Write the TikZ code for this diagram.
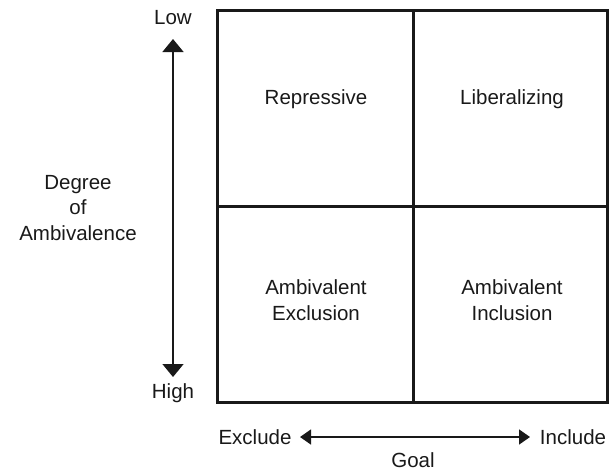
\documentclass[tikz,border=0pt]{standalone}
\usepackage{fontspec}
\setmainfont{Liberation Sans}
\usetikzlibrary{arrows.meta}
\begin{document}
\begin{tikzpicture}[x=1pt,y=-1pt,
    lbl/.style={font=\fontsize{20.5}{25.5}\selectfont, align=center, inner sep=0pt, text=black!90},
    cell/.style={line width=3pt, black!90},
    axis/.style={line width=1.5pt, black!90}]
  \useasboundingbox (0,0) rectangle (609,472);

  % the four quadrants
  \draw[cell] (217,10) rectangle (607.5,402);
  \draw[cell] (413,10) -- (413,402);
  \draw[cell] (217,206) -- (607.5,206);
  \foreach[count=\i] \t/\x/\y in {Repressive/316/99, Liberalizing/512/99,
      Ambivalent\\Exclusion/316/300, Ambivalent\\Inclusion/512/300} {
    \node[lbl] (q\i) at (\x,\y) {\t};
  }

  % vertical axis
  \node[lbl] (low) at (173,18) {Low};
  \node[lbl] (high) at (173,393) {High};
  \node[lbl] (degree) at (78,208) {Degree\\of\\Ambivalence};
  \coordinate (vtop) at (173,39);
  \coordinate (vbot) at (173,377);
  \draw[axis, {Triangle[width=21pt,length=13pt]}-{Triangle[width=21pt,length=13pt]}] (vtop) -- (vbot);

  % horizontal axis
  \node[lbl] (excl) at (255,437) {Exclude};
  \node[lbl] (incl) at (573,437) {Include};
  \node[lbl] (goal) at (413,460) {Goal};
  \coordinate (hleft) at (300,437);
  \coordinate (hright) at (530,437);
  \draw[axis, {Triangle[width=15pt,length=11pt]}-{Triangle[width=15pt,length=11pt]}] (hleft) -- (hright);
\end{tikzpicture}
\end{document}
